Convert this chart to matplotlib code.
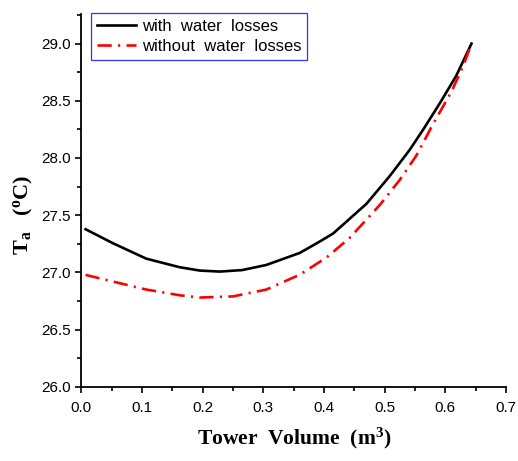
import matplotlib
matplotlib.use("Agg")
import matplotlib.pyplot as plt
from matplotlib.ticker import FormatStrFormatter

plt.rcParams.update({
    "font.family": "Liberation Sans",
    "font.size": 11,
    "mathtext.fontset": "custom",
    "mathtext.rm": "Liberation Serif:bold",
    "mathtext.it": "Liberation Serif:bold",
    "mathtext.bf": "Liberation Serif:bold",
    "mathtext.default": "bf",
})

# tower volume (m3) and outlet air temperature (oC)
vol_with = [0.007, 0.052, 0.107, 0.162, 0.195, 0.228, 0.265, 0.305, 0.36, 0.393,
            0.415, 0.47, 0.508, 0.541, 0.563, 0.591, 0.618, 0.643]
ta_with = [27.377, 27.255, 27.12, 27.045, 27.016, 27.007, 27.02, 27.065, 27.17, 27.27,
           27.34, 27.60, 27.84, 28.07, 28.245, 28.48, 28.72, 29.00]

vol_without = [0.007, 0.052, 0.107, 0.162, 0.195, 0.25, 0.305, 0.36, 0.404, 0.442,
               0.492, 0.525, 0.552, 0.58, 0.61, 0.629, 0.643]
ta_without = [26.978, 26.92, 26.85, 26.80, 26.78, 26.79, 26.85, 26.98, 27.13, 27.30,
              27.59, 27.81, 28.02, 28.30, 28.58, 28.80, 29.00]

fig = plt.figure(figsize=(5.18, 4.61), dpi=100)
ax = fig.add_axes([0.157, 0.161, 0.82, 0.809])

ax.plot(vol_with, ta_with, color="black", lw=1.9, label="with  water  losses")
ax.plot(vol_without, ta_without, color="red", lw=1.9, dashes=(5.4, 2.4, 0.8, 2.4),
        label="without  water  losses")

ax.set_xlim(0.0, 0.7)
ax.set_ylim(26.0, 29.26)
ax.set_xticks([i / 10 for i in range(8)])
ax.set_xticks([0.05 + i / 10 for i in range(7)], minor=True)
ax.set_yticks([26.0, 26.5, 27.0, 27.5, 28.0, 28.5, 29.0])
ax.set_yticks([26.25, 26.75, 27.25, 27.75, 28.25, 28.75, 29.25], minor=True)
ax.xaxis.set_major_formatter(FormatStrFormatter("%.1f"))
ax.yaxis.set_major_formatter(FormatStrFormatter("%.1f"))
ax.tick_params(which="both", direction="out", width=1.2)
ax.tick_params(which="major", length=4.5)
ax.tick_params(which="minor", length=3)
ax.tick_params(axis="x", which="major", pad=6)
ax.tick_params(axis="y", which="major", pad=3)
for s in ["top", "right"]:
    ax.spines[s].set_visible(False)
for s in ["left", "bottom"]:
    ax.spines[s].set_linewidth(1.3)

ax.set_xlabel("Tower  Volume  (m$^3$)", family="Liberation Serif",
              fontweight="bold", fontsize=15.5)
ax.set_ylabel("T$_a$   ($^o$C)", family="Liberation Serif",
              fontweight="bold", fontsize=16)
ax.xaxis.set_label_coords(0.5, -0.105)
ax.yaxis.set_label_coords(-0.108, 0.46)

leg = ax.legend(loc="upper left", bbox_to_anchor=(0.023, 1.003), fancybox=False,
                handlelength=2.3, borderpad=0.38, labelspacing=0.3,
                handletextpad=0.35, borderaxespad=0.0, fontsize=12)
leg.get_frame().set_edgecolor("blue")
leg.get_frame().set_linewidth(0.9)

fig.savefig("out.png", dpi=100)
